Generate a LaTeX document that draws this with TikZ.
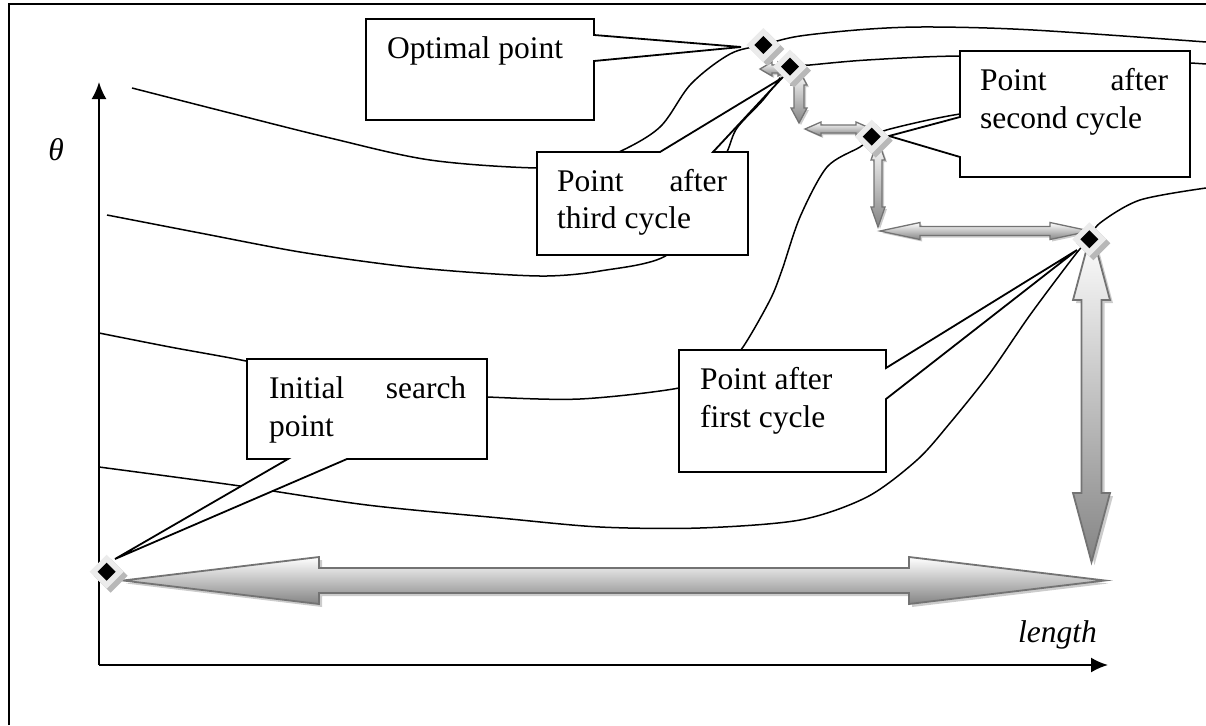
\documentclass[tikz,border=0pt]{standalone}
\usepackage{fontspec}
\setmainfont{Liberation Serif}
\usetikzlibrary{arrows.meta,calc}

\tikzset{
  contour/.style={line width=1.5pt, black},
  axis/.style={line width=2pt, -{Latex[length=17pt,width=15pt]}},
  callout/.style={draw=black, fill=white, line width=1.8pt, line join=miter},
  blockarrow/.style={draw=black!55, top color=white, bottom color=black!48, line join=miter},
  blockshadow/.style={fill=black!20, draw=none},
  lbl/.style={inner sep=0pt, font=\fontsize{31.5}{37.5}\selectfont},
  mkouter/.style={fill=black!8, draw=none},
  mkshadow/.style={fill=black!28, draw=none},
}

% horizontal double block arrow: x1, x2, y, head length, head half width, shaft half width, line width, shadow
\newcommand\hdarrow[8]{%
  \path[blockshadow, shift={(#8,#8)}] (#1,#3) -- ({#1+#4},{#3-#5}) -- ({#1+#4},{#3-#6}) -- ({#2-#4},{#3-#6}) -- ({#2-#4},{#3-#5}) -- (#2,#3) -- ({#2-#4},{#3+#5}) -- ({#2-#4},{#3+#6}) -- ({#1+#4},{#3+#6}) -- ({#1+#4},{#3+#5}) -- cycle;
  \path[blockarrow, line width=#7] (#1,#3) -- ({#1+#4},{#3-#5}) -- ({#1+#4},{#3-#6}) -- ({#2-#4},{#3-#6}) -- ({#2-#4},{#3-#5}) -- (#2,#3) -- ({#2-#4},{#3+#5}) -- ({#2-#4},{#3+#6}) -- ({#1+#4},{#3+#6}) -- ({#1+#4},{#3+#5}) -- cycle;}
% vertical double block arrow: x, y1, y2, head length, head half width, shaft half width, line width, shadow
\newcommand\vdarrow[8]{%
  \path[blockshadow, shift={(#8,#8)}] (#1,#2) -- ({#1+#5},{#2+#4}) -- ({#1+#6},{#2+#4}) -- ({#1+#6},{#3-#4}) -- ({#1+#5},{#3-#4}) -- (#1,#3) -- ({#1-#5},{#3-#4}) -- ({#1-#6},{#3-#4}) -- ({#1-#6},{#2+#4}) -- ({#1-#5},{#2+#4}) -- cycle;
  \path[blockarrow, line width=#7] (#1,#2) -- ({#1+#5},{#2+#4}) -- ({#1+#6},{#2+#4}) -- ({#1+#6},{#3-#4}) -- ({#1+#5},{#3-#4}) -- (#1,#3) -- ({#1-#5},{#3-#4}) -- ({#1-#6},{#3-#4}) -- ({#1-#6},{#2+#4}) -- ({#1-#5},{#2+#4}) -- cycle;}
% marker: name
\newcommand\drawmarker[1]{%
  \fill[mkshadow] ($(#1)+(4,4)$) +(0,-17) -- +(17,0) -- +(0,17) -- +(-17,0) -- cycle;
  \fill[mkouter] (#1) +(0,-17) -- +(17,0) -- +(0,17) -- +(-17,0) -- cycle;
  \fill[black] (#1) +(0,-9) -- +(9,0) -- +(0,9) -- +(-9,0) -- cycle;}

\begin{document}
\begin{tikzpicture}[x=1pt,y=-1pt]
\useasboundingbox (0,0) rectangle (1206,725);

% frame
\draw[line width=1.5pt] (9,725) -- (9,4) -- (1206,4);

% marker positions
\coordinate (mOpt) at (763.3,45);
\coordinate (mThird) at (790,66.7);
\coordinate (mSecond) at (871.7,136.7);
\coordinate (mFirst) at (1089.3,239.3);
\coordinate (mInit) at (106.7,571.7);

% axes
\coordinate (O) at (99,665);
\coordinate (Ytip) at (99,82);
\coordinate (Xtip) at (1108,665);
\draw[axis] (O) -- (Ytip);
\draw[axis] (O) -- (Xtip);
\node[lbl, font=\fontsize{31.5}{37.5}\selectfont\itshape] (theta) at (56,150) {θ};
\node[lbl, font=\fontsize{31.5}{37.5}\selectfont\itshape, anchor=base west] (len) at (1018,642) {length};

% contour lines
\draw[contour] plot[smooth, tension=0.55] coordinates {(132,88) (230,113) (330,138) (430,160) (537,168) (585,163) (619,152) (660,127) (691,84) (730,54) (763,45) (800,36) (870,29) (933,27) (1033,30) (1206,42)};
\draw[contour] plot[smooth, tension=0.5] coordinates {(107,215) (200,233) (300,252) (400,266) (480,273) (547,276) (600,271) (667,255) (705,200) (727,152) (737,128) (763,100) (790,67) (810,65) (867,60) (960,56) (1100,58) (1206,64)};
\draw[contour] plot[smooth, tension=0.5] coordinates {(99,333) (170,347) (246,361) (320,378) (400,392) (487,397) (580,399) (679,388) (720,372) (743,347) (770,300) (782,270) (800,217) (827,167) (860,147) (872,137) (890,129) (960,114) (1050,105)};
\draw[contour] plot[smooth, tension=0.5] coordinates {(99,467) (233,485) (367,505) (500,518) (600,527) (700,528) (800,520) (867,497) (917,460) (950,423) (990,373) (1030,315) (1075,255) (1089,239) (1100,223) (1140,200) (1206,188)};

% block arrows
\hdarrow{123}{1105}{580.5}{196}{23.5}{12.5}{1.8pt}{3}
\vdarrow{1091.5}{231}{562}{69}{18.5}{10}{1.8pt}{3}
\hdarrow{880}{1090}{231}{40}{8.5}{4.5}{1.3pt}{2}
\vdarrow{878}{140}{227}{20}{7}{4}{1.3pt}{2}
\hdarrow{805}{872}{129}{16}{7}{4}{1.3pt}{2}
\vdarrow{799}{70}{123}{15}{8}{5}{1.3pt}{2}
\hdarrow{760}{790}{69}{12}{7}{4}{1.3pt}{2}

% callouts
\coordinate (tOpt) at (741,47);
\coordinate (tThird) at (782,78);
\coordinate (tSecond) at (889,136);
\coordinate (tFirst) at (1077,250);
\coordinate (tInit) at (115,559);

\path[callout] (366,19) -- (594,19) -- (594,35) -- (tOpt) -- (594,61) -- (594,120) -- (366,120) -- cycle;
\node[lbl, anchor=base west] (lOpt) at (387,59) {Optimal point};

\path[callout] (537,152) -- (660,152) -- (tThird) -- (713,152) -- (748,152) -- (748,255) -- (537,255) -- cycle;
\node[lbl, anchor=base west] (lThirdA) at (557,191) {\hbox to 170pt{Point\hfill after}};
\node[lbl, anchor=base west] (lThirdB) at (557,228.5) {third cycle};

\path[callout] (960,51) -- (1190,51) -- (1190,177) -- (960,177) -- (960,157) -- (tSecond) -- (960,117) -- cycle;
\node[lbl, anchor=base west] (lSecondA) at (980,90) {\hbox to 188pt{Point\hfill after}};
\node[lbl, anchor=base west] (lSecondB) at (980,128) {second cycle};

\path[callout] (679,350) -- (886,350) -- (886,368) -- (tFirst) -- (886,399) -- (886,472) -- (679,472) -- cycle;
\node[lbl, anchor=base west] (lFirstA) at (700,389) {Point after};
\node[lbl, anchor=base west] (lFirstB) at (700,427) {first cycle};

\path[callout] (247,359) -- (487,359) -- (487,459) -- (347,459) -- (tInit) -- (288,459) -- (247,459) -- cycle;
\node[lbl, anchor=base west] (lInitA) at (269,398) {\hbox to 197pt{Initial\hfill search}};
\node[lbl, anchor=base west] (lInitB) at (269,436) {point};

% markers
\drawmarker{mOpt}
\drawmarker{mThird}
\drawmarker{mSecond}
\drawmarker{mFirst}
\drawmarker{mInit}
\end{tikzpicture}
\end{document}
